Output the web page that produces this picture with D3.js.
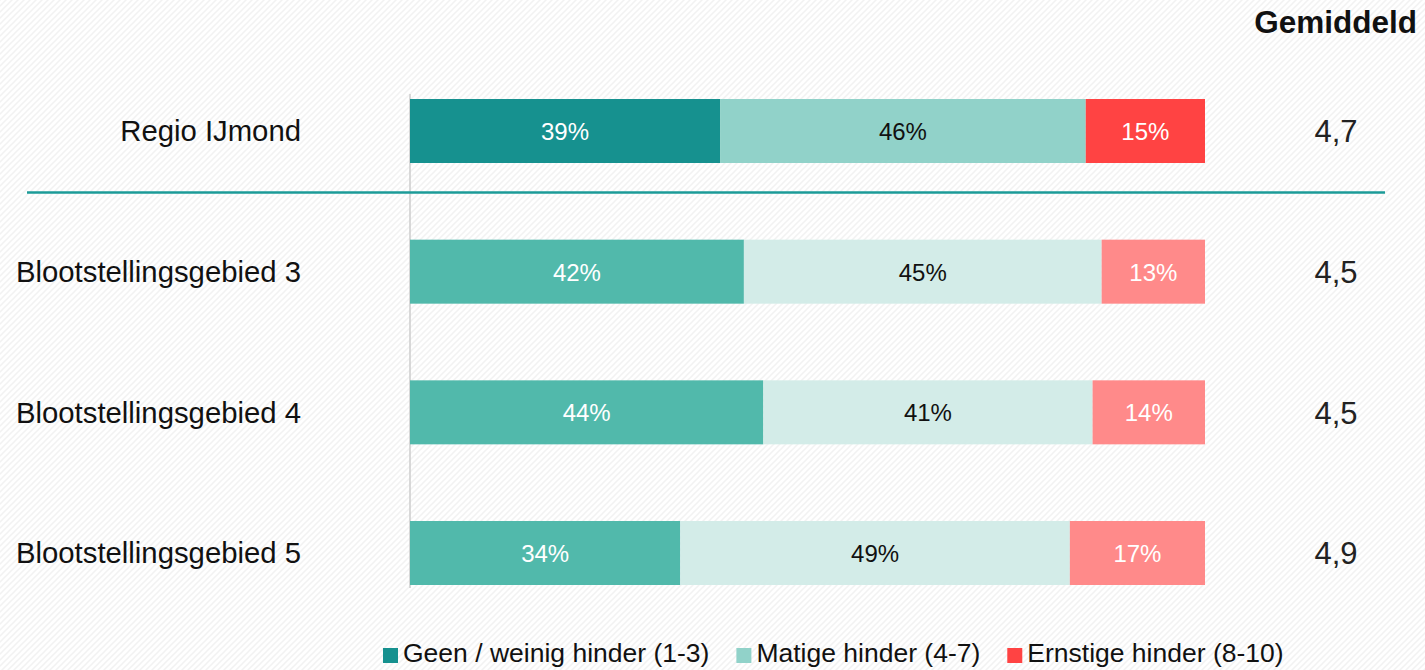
<!DOCTYPE html>
<html>
<head>
<meta charset="utf-8">
<script src="https://cdn.jsdelivr.net/npm/d3@7"></script>
<style>
  html, body { margin: 0; padding: 0; background: #ffffff; }
  svg { display: block; font-family: Arial, "Liberation Sans", Helvetica, sans-serif; }
</style>
</head>
<body>
<svg id="chart" width="1425" height="670"></svg>
<script>
// Rows of the chart
const categories = ["Regio IJmond", "Blootstellingsgebied 3", "Blootstellingsgebied 4", "Blootstellingsgebied 5"];
// Hindrance classes (stack order)
const seriesNames = ["Geen / weinig hinder (1-3)", "Matige hinder (4-7)", "Ernstige hinder (8-10)"];
// Percentages per row, one array per class
const geenWeinig = [39, 42, 44, 34];
const matig = [46, 45, 41, 49];
const ernstig = [15, 13, 14, 17];
// Average score per row
const gemiddeld = ["4,7", "4,5", "4,5", "4,9"];

// Region row uses the strong palette, the exposure areas the soft one
const strongColors = ["#16918f", "#91d2c9", "#ff4343"];
const softColors = ["#51b9ab", "#d3ece8", "#ff8a8a"];
const strongText = ["#ffffff", "#111111", "#ffffff"];
const softText = ["#ffffff", "#111111", "#ffffff"];

const svg = d3.select("#chart");
const W = 1425, H = 670;

// Faint diagonal background hatch
const defs = svg.append("defs");
const pat = defs.append("pattern")
  .attr("id", "hatch").attr("patternUnits", "userSpaceOnUse")
  .attr("width", 6).attr("height", 6);
pat.append("rect").attr("width", 6).attr("height", 6).attr("fill", "#ffffff");
pat.append("path").attr("d", "M-1,1 l2,-2 M0,6 l6,-6 M5,7 l2,-2")
  .attr("stroke", "#f2f2f2").attr("stroke-width", 1.5);
svg.append("rect").attr("width", W).attr("height", H).attr("fill", "url(#hatch)");

const x = d3.scaleLinear().domain([0, 1]).range([410, 1205]);
const y = d3.scaleBand().domain(categories).range([99, 585]).paddingInner(0.545).paddingOuter(0);

// Build normalized stacks (100% stacked bars)
const rows = categories.map((c, i) => {
  const vals = [geenWeinig[i], matig[i], ernstig[i]];
  const total = d3.sum(vals);
  let acc = 0;
  return {
    cat: c, idx: i, mean: gemiddeld[i],
    segs: vals.map((v, k) => {
      const s = { k, v, x0: acc / total, x1: (acc + v) / total };
      acc += v;
      return s;
    })
  };
});

// Vertical baseline axis
svg.append("line")
  .attr("x1", x(0)).attr("x2", x(0))
  .attr("y1", 94).attr("y2", 588)
  .attr("stroke", "#cccccc").attr("stroke-width", 1.5);

const rowG = svg.selectAll("g.row").data(rows).join("g").attr("class", "row");

rowG.selectAll("rect").data(d => d.segs.map(s => ({ ...s, row: d })))
  .join("rect")
  .attr("x", d => x(d.x0))
  .attr("y", d => y(d.row.cat))
  .attr("width", d => x(d.x1) - x(d.x0))
  .attr("height", y.bandwidth())
  .attr("fill", d => (d.row.idx === 0 ? strongColors : softColors)[d.k]);

rowG.selectAll("text.pct").data(d => d.segs.map(s => ({ ...s, row: d })))
  .join("text").attr("class", "pct")
  .attr("x", d => (x(d.x0) + x(d.x1)) / 2)
  .attr("y", d => y(d.row.cat) + y.bandwidth() / 2)
  .attr("dy", "0.37em")
  .attr("text-anchor", "middle")
  .attr("font-size", 24)
  .attr("fill", d => (d.row.idx === 0 ? strongText : softText)[d.k])
  .text(d => d.v + "%");

// Category labels
rowG.append("text")
  .attr("x", 301)
  .attr("y", d => y(d.cat) + y.bandwidth() / 2)
  .attr("dy", "0.35em")
  .attr("text-anchor", "end")
  .attr("font-size", 29.3)
  .attr("fill", "#111111")
  .text(d => d.cat);

// Average column
rowG.append("text")
  .attr("x", 1336)
  .attr("y", d => y(d.cat) + y.bandwidth() / 2)
  .attr("dy", "0.37em")
  .attr("text-anchor", "middle")
  .attr("font-size", 31)
  .attr("fill", "#222222")
  .text(d => d.mean);

svg.append("text")
  .attr("x", 1417).attr("y", 33)
  .attr("text-anchor", "end")
  .attr("font-size", 31.5).attr("font-weight", "bold")
  .attr("fill", "#111111")
  .text("Gemiddeld");

// Separator between region and exposure areas
svg.append("line")
  .attr("x1", 27).attr("x2", 1385)
  .attr("y1", 192.5).attr("y2", 192.5)
  .attr("stroke", "#1c9b98").attr("stroke-width", 2.4);

// Legend
const legend = svg.append("g");
let lx = 383;
seriesNames.forEach((name, k) => {
  legend.append("rect")
    .attr("x", lx).attr("y", 648).attr("width", 15).attr("height", 15)
    .attr("fill", strongColors[k]);
  const t = legend.append("text")
    .attr("x", lx + 20).attr("y", 662)
    .attr("font-size", 26.5).attr("fill", "#111111")
    .text(name);
  lx += 20 + t.node().getComputedTextLength() + 27;
});
</script>
</body>
</html>
